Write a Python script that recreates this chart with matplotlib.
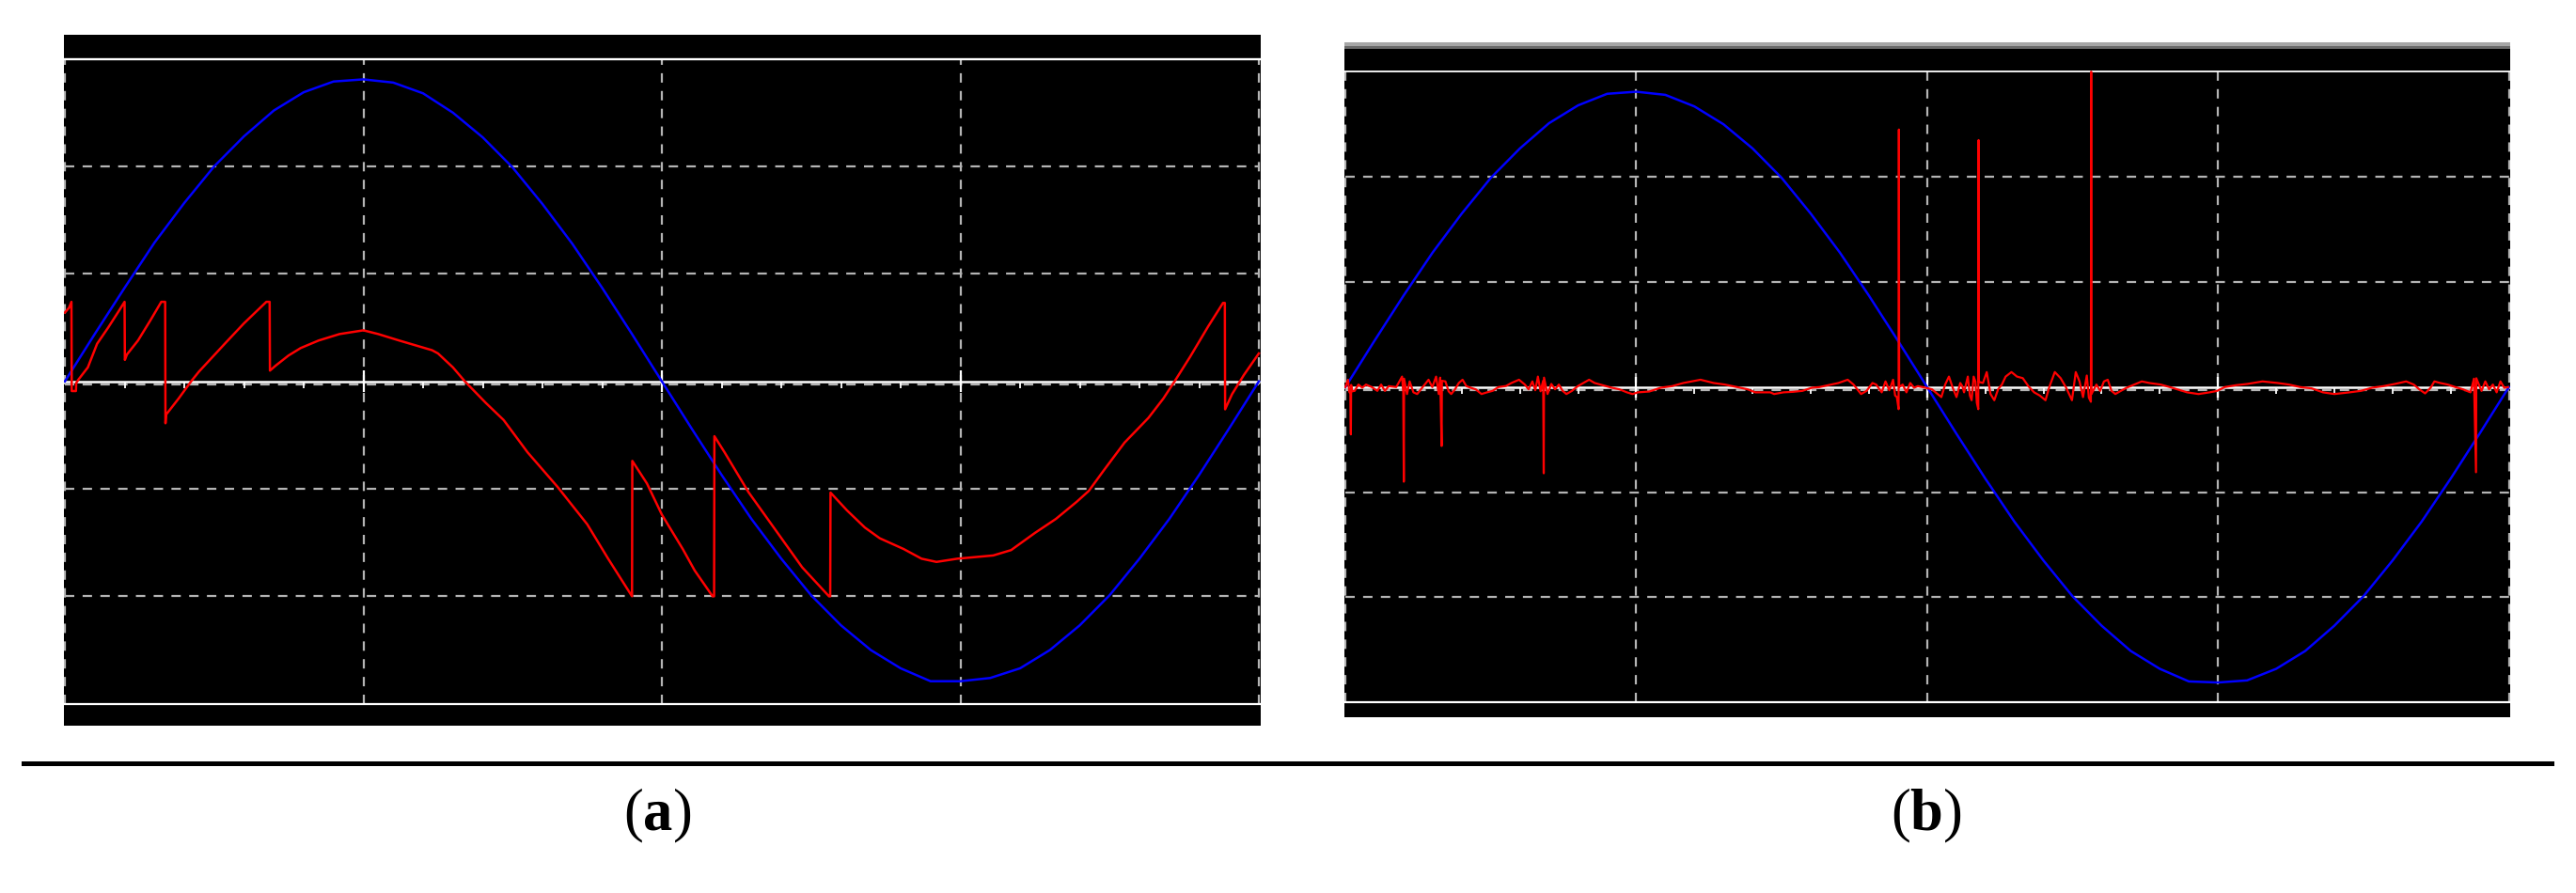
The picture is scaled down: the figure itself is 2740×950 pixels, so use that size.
import numpy as np
import matplotlib
matplotlib.use("Agg")
import matplotlib.pyplot as plt
from matplotlib.patches import Rectangle

# ---------------- data (x in screen divisions 0..4, y in divisions -3..3) ----------------
blue_a_x = [0.0, 0.1, 0.2, 0.3, 0.4, 0.5, 0.6, 0.7, 0.8, 0.9, 1.0, 1.1, 1.2, 1.3, 1.4,
            1.5, 1.6, 1.7, 1.8, 1.9, 2.0, 2.1, 2.2, 2.3, 2.4, 2.5, 2.6, 2.7, 2.8, 2.9,
            3.0, 3.1, 3.2, 3.3, 3.4, 3.5, 3.6, 3.7, 3.8, 3.9, 4.0]
blue_a_y = [0.00, 0.44, 0.87, 1.29, 1.66, 2.00, 2.28, 2.52, 2.69, 2.79, 2.81, 2.78, 2.68,
            2.50, 2.27, 1.99, 1.65, 1.28, 0.87, 0.44, 0.00, -0.44, -0.87, -1.28, -1.65,
            -1.99, -2.27, -2.50, -2.67, -2.79, -2.79, -2.76, -2.67, -2.50, -2.27, -1.99,
            -1.65, -1.28, -0.87, -0.44, 0.00]

red_a_x = [0.000, 0.014, 0.022, 0.023, 0.037, 0.038, 0.045, 0.077, 0.108, 0.145, 0.182,
           0.200, 0.201, 0.208, 0.245, 0.287, 0.323, 0.336, 0.337, 0.339, 0.381, 0.423,
           0.449, 0.539, 0.600, 0.675, 0.686, 0.687, 0.706, 0.749, 0.790, 0.850, 0.920,
           1.000, 1.050, 1.120, 1.230, 1.250, 1.300, 1.340, 1.410, 1.470, 1.550, 1.650,
           1.750, 1.820, 1.900, 1.901, 1.950, 2.000, 2.070, 2.110, 2.170, 2.175, 2.176,
           2.210, 2.290, 2.380, 2.470, 2.520, 2.560, 2.564, 2.565, 2.620, 2.680, 2.730,
           2.810, 2.870, 2.920, 2.990, 3.110, 3.170, 3.250, 3.320, 3.390, 3.430, 3.480,
           3.550, 3.630, 3.680, 3.720, 3.770, 3.830, 3.880, 3.886, 3.887, 3.910, 3.950,
           4.000]
red_a_y = [0.64, 0.685, 0.74, -0.09, -0.09, -0.015, 0.015, 0.13, 0.35, 0.50, 0.66,
           0.74, 0.20, 0.25, 0.38, 0.57, 0.74, 0.74, -0.39, -0.31, -0.16, 0.00,
           0.09, 0.36, 0.54, 0.74, 0.74, 0.10, 0.146, 0.24, 0.31, 0.38, 0.44,
           0.475, 0.44, 0.38, 0.29, 0.26, 0.13, 0.00, -0.20, -0.36, -0.66, -0.98,
           -1.33, -1.65, -2.00, -0.74, -0.95, -1.24, -1.56, -1.76, -2.00, -2.00, -0.51,
           -0.66, -1.03, -1.38, -1.73, -1.88, -2.00, -2.00, -1.035, -1.20, -1.36, -1.46,
           -1.56, -1.65, -1.68, -1.65, -1.62, -1.57, -1.41, -1.28, -1.12, -1.02, -0.83,
           -0.57, -0.34, -0.16, 0.01, 0.23, 0.51, 0.73, 0.73, -0.26, -0.12, 0.06,
           0.26]

blue_b_x = blue_a_x
blue_b_y = [0.00, 0.44, 0.87, 1.28, 1.65, 1.99, 2.27, 2.51, 2.68, 2.79, 2.81, 2.78, 2.67,
            2.50, 2.27, 1.99, 1.65, 1.28, 0.87, 0.44, 0.00, -0.44, -0.87, -1.28, -1.65,
            -1.99, -2.27, -2.51, -2.68, -2.80, -2.81, -2.79, -2.68, -2.51, -2.27, -1.99,
            -1.65, -1.28, -0.87, -0.44, 0.00]

red_b_x = [0.000, 0.009, 0.014, 0.017, 0.019, 0.020, 0.023, 0.032, 0.045, 0.058, 0.071,
           0.091, 0.110, 0.123, 0.136, 0.149, 0.175, 0.195, 0.199, 0.201, 0.202, 0.212,
           0.221, 0.234, 0.247, 0.260, 0.273, 0.286, 0.299, 0.312, 0.321, 0.326, 0.331,
           0.332, 0.344, 0.355, 0.364, 0.377, 0.390, 0.403, 0.416, 0.435, 0.448, 0.468,
           0.487, 0.506, 0.526, 0.552, 0.571, 0.597, 0.617, 0.630, 0.643, 0.653, 0.662,
           0.671, 0.680, 0.682, 0.683, 0.695, 0.708, 0.721, 0.734, 0.747, 0.760, 0.779,
           0.799, 0.818, 0.838, 0.857, 0.877, 0.916, 0.942, 0.968, 0.987, 1.006, 1.045,
           1.084, 1.123, 1.162, 1.221, 1.266, 1.305, 1.357, 1.383, 1.409, 1.461, 1.474,
           1.506, 1.539, 1.571, 1.604, 1.630, 1.669, 1.695, 1.727, 1.747, 1.773, 1.792,
           1.812, 1.825, 1.844, 1.857, 1.870, 1.883, 1.890, 1.896, 1.902, 1.903, 1.904,
           1.916, 1.929, 1.942, 1.955, 1.968, 1.994, 2.017, 2.036, 2.049, 2.062, 2.075,
           2.088, 2.101, 2.114, 2.121, 2.127, 2.140, 2.147, 2.153, 2.160, 2.166, 2.171,
           2.176, 2.177, 2.178, 2.192, 2.205, 2.218, 2.231, 2.244, 2.257, 2.270, 2.290,
           2.309, 2.329, 2.348, 2.368, 2.387, 2.407, 2.420, 2.439, 2.459, 2.478, 2.498,
           2.511, 2.524, 2.536, 2.549, 2.556, 2.563, 2.564, 2.565, 2.582, 2.595, 2.608,
           2.621, 2.634, 2.647, 2.666, 2.686, 2.712, 2.738, 2.764, 2.803, 2.842, 2.894,
           2.933, 2.971, 2.997, 3.023, 3.062, 3.101, 3.153, 3.205, 3.244, 3.283, 3.322,
           3.361, 3.400, 3.452, 3.491, 3.530, 3.569, 3.608, 3.647, 3.673, 3.692, 3.712,
           3.731, 3.744, 3.764, 3.790, 3.816, 3.842, 3.868, 3.880, 3.887, 3.888, 3.906,
           3.919, 3.932, 3.945, 3.958, 3.971, 3.984, 3.997]
red_b_y = [0.000, 0.070, -0.050, -0.030, -0.450, 0.020, -0.040, -0.036, 0.024, -0.006, 0.024,
           0.000, -0.036, 0.024, -0.036, 0.009, 0.000, 0.100, -0.050, -0.900, 0.080, -0.066,
           0.054, -0.050, -0.066, -0.021, 0.024, 0.070, 0.000, 0.100, -0.066, 0.090, -0.560,
           0.060, 0.054, -0.040, -0.066, -0.021, 0.039, 0.070, 0.009, -0.010, -0.021, -0.066,
           -0.050, -0.036, 0.000, 0.010, 0.039, 0.070, 0.024, -0.021, 0.054, -0.030, 0.100,
           -0.040, 0.060, -0.820, 0.090, -0.066, 0.030, -0.021, 0.024, -0.036, -0.066, -0.036,
           0.009, 0.039, 0.070, 0.039, 0.024, -0.006, -0.021, -0.050, -0.066, -0.050, -0.042,
           -0.006, 0.009, 0.039, 0.070, 0.039, 0.024, -0.006, -0.021, -0.050, -0.050, -0.066,
           -0.050, -0.045, -0.036, -0.006, 0.000, 0.024, 0.039, 0.070, 0.024, -0.066, -0.036,
           0.039, 0.024, -0.050, 0.054, -0.030, 0.070, -0.080, -0.095, -0.210, 2.450, 0.000,
           0.024, -0.050, 0.039, -0.006, 0.009, -0.006, -0.021, -0.066, -0.095, 0.024, 0.100,
           -0.006, -0.095, 0.039, 0.009, -0.050, 0.100, -0.080, -0.125, 0.100, 0.054, -0.150,
           -0.210, 2.350, 0.050, 0.039, 0.143, -0.066, -0.125, -0.021, 0.024, 0.100, 0.143,
           0.100, 0.085, 0.009, -0.050, -0.080, -0.125, 0.000, 0.143, 0.085, -0.006, -0.125,
           0.143, 0.054, -0.095, 0.110, -0.100, -0.140, 3.000, -0.066, 0.024, -0.036, 0.054,
           0.070, -0.036, -0.066, -0.036, -0.006, 0.024, 0.054, 0.039, 0.024, -0.006, -0.050,
           -0.066, -0.050, -0.036, 0.000, 0.018, 0.030, 0.054, 0.039, 0.024, 0.000, -0.012,
           -0.050, -0.066, -0.050, -0.036, -0.006, 0.009, 0.030, 0.054, 0.024, -0.021, -0.060,
           -0.006, 0.054, 0.039, 0.024, 0.000, -0.021, -0.050, 0.080, -0.810, 0.084, -0.036,
           0.054, -0.021, 0.024, -0.050, 0.054, -0.006, 0.000]

panel_labels = ["a", "b"]

# ---------------- figure ----------------
W, H = 2740, 950
plt.rcParams["mathtext.fontset"] = "custom"
plt.rcParams["mathtext.rm"] = "Liberation Serif"
plt.rcParams["mathtext.bf"] = "Liberation Serif:bold"
fig = plt.figure(figsize=(W / 100, H / 100), dpi=100)
fig.patch.set_facecolor("white")

GRID = "#b4b4b4"
DASH = (0, (4.5, 4))
LW = 1.8


def scope(black, plot, top_lw):
    bx0, by0, bx1, by1 = black
    px0, py0, px1, py1 = plot
    ax = fig.add_axes([bx0 / W, 1 - by1 / H, (bx1 - bx0) / W, (by1 - by0) / H])
    sx = 4.0 / (px1 - px0)
    sy = 6.0 / (py1 - py0)
    ax.set_xlim(-(px0 - bx0) * sx, 4 + (bx1 - px1) * sx)
    ax.set_ylim(-3 - (by1 - py1) * sy, 3 + (py0 - by0) * sy)
    ax.set_facecolor("black")
    for s in ax.spines.values():
        s.set_visible(False)
    ax.set_xticks([])
    ax.set_yticks([])
    # grid
    for v in [0, 1, 2, 3, 4]:
        ax.plot([v, v], [-3, 3], color=GRID, lw=1.6, ls=DASH, zorder=1)
    for h in [-2, -1, 1, 2]:
        ax.plot([0, 4], [h, h], color=GRID, lw=1.6, ls=DASH, zorder=1)
    ax.plot([0, 4], [-0.025, -0.025], color=GRID, lw=1.6, ls=DASH, zorder=1)
    # frame lines
    ax.axhline(3, color="white", lw=top_lw, zorder=2)
    ax.axhline(-3, color="white", lw=1.6, zorder=2)
    # zero line with minor ticks
    ax.plot([0, 4], [0, 0], color="white", lw=1.8, zorder=2)
    minor = np.arange(0.2, 4.0, 0.2)
    ax.vlines(minor, -0.065, 0, color="white", lw=1.3, zorder=2)
    ax.vlines([1, 2, 3], -0.1, 0.1, color="white", lw=1.6, zorder=2)
    return ax


# panel (a)
ax_a = scope((68, 37, 1341, 772), (69, 62.7, 1339, 748.7), 1.7)
ax_a.plot(blue_a_x, blue_a_y, color="#0000ff", lw=LW, zorder=3)
ax_a.plot(red_a_x, red_a_y, color="#ff0000", lw=LW, zorder=4)

# panel (b)
ax_b = scope((1430, 52, 2670, 763.3), (1431, 76.3, 2668.6, 747.3), 1.3)
ax_b.plot(blue_b_x, blue_b_y, color="#0000ff", lw=LW, zorder=3)
ax_b.plot(red_b_x, red_b_y, color="#ff0000", lw=1.6, zorder=4, clip_on=True)

# gray title strip above (b)
fig.add_artist(Rectangle((1430 / W, 1 - 48.5 / H), 1240 / W, 3.5 / H,
                         transform=fig.transFigure, color="#a6a6a6", lw=0))
fig.add_artist(Rectangle((1430 / W, 1 - 52 / H), 1240 / W, 3.5 / H,
                         transform=fig.transFigure, color="#6a6a6a", lw=0))

# horizontal rule
fig.add_artist(Rectangle((23 / W, 1 - 815 / H), (2717 - 23) / W, 5 / H,
                         transform=fig.transFigure, color="black", lw=0))

# panel labels
for lab, xc in zip(panel_labels, [699, 2049]):
    fig.text(xc / W, 1 - 868 / H, "(" + r"$\mathbf{" + lab + "}$" + ")",
             ha="center", va="center", fontsize=45, family="Liberation Serif")

fig.savefig("out.png", dpi=100, facecolor="white")
